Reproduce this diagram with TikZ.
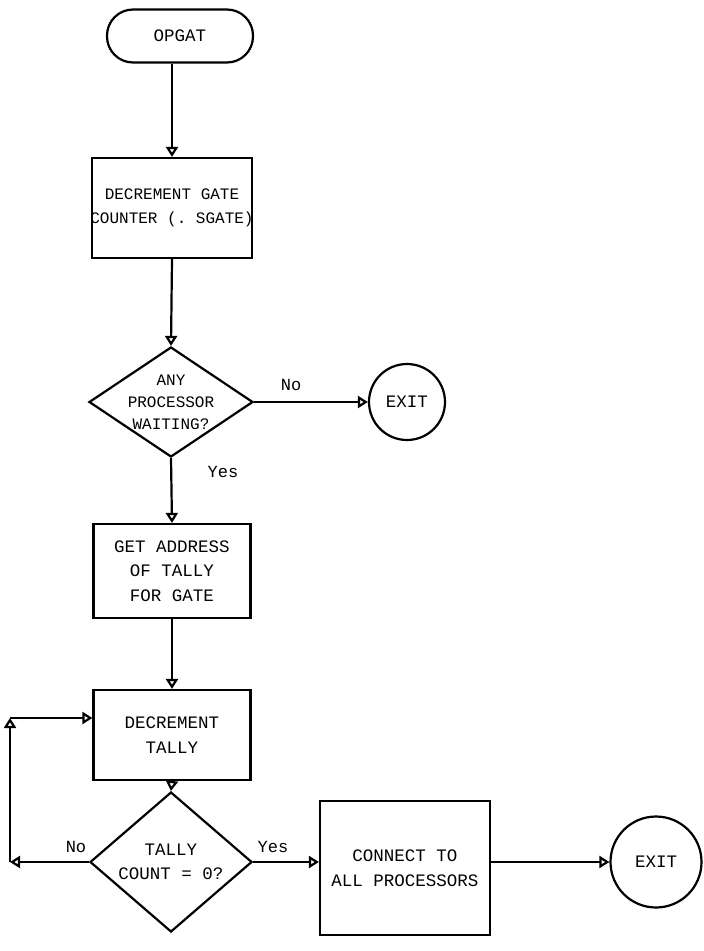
\documentclass[tikz,border=0pt]{standalone}
\usepackage{fontspec}
\setmonofont{Liberation Mono}
\usetikzlibrary{arrows.meta,shapes.geometric,positioning}

\begin{document}
\begin{tikzpicture}[x=1pt,y=-1pt,line width=2.2pt,
  font=\ttfamily\fontsize{17.5}{24.5}\selectfont,
  flow/.style={-{Triangle[open,length=10pt,width=12pt]}},
  term/.style={draw,rounded corners=26pt,minimum width=146pt,minimum height=53pt},
  proc/.style={draw,align=center,inner sep=0pt,minimum width=157pt,minimum height=100pt},
  test/.style={draw,diamond,align=center,inner xsep=-20pt,inner ysep=-12pt},
  stop/.style={draw,circle,inner sep=0pt},
  lbl/.style={font=\ttfamily\fontsize{17}{20}\selectfont}]
\useasboundingbox (0,0) rectangle (704,951);

% main column
\node[term] (start) at (180,36) {OPGAT};
\node[proc,inner xsep=-2pt,minimum width=160pt,font=\ttfamily\fontsize{16}{24}\selectfont] (gatecnt) at (172,208) {DECREMENT GATE\\COUNTER (. SGATE)};
\node[test,aspect=1.5,minimum width=164pt,minimum height=110pt,font=\ttfamily\fontsize{16}{22}\selectfont] (waiting) at (171,402) {ANY\\PROCESSOR\\WAITING?};
\node[stop,minimum size=76pt] (exitA) at (407,402) {EXIT};
\node[proc,minimum height=94pt] (tallyadr) at (172,571) {GET ADDRESS\\OF TALLY\\FOR GATE};
\node[proc,minimum height=90pt] (tallydec) at (172,735) {DECREMENT\\TALLY};
\node[test,aspect=1.15,minimum width=162pt,minimum height=140pt] (zero) at (171,862) {TALLY\\COUNT = 0?};
\node[proc,minimum width=170pt,minimum height=134pt] (connect) at (405,868) {CONNECT TO\\ALL PROCESSORS};
\node[stop,minimum size=91pt] (exitB) at (656,862) {EXIT};

% loop corners
\coordinate (loopB) at (10,862);
\coordinate (loopT) at (10,718);

% connectors
\draw[flow] (start.south -| gatecnt.north) -- (gatecnt.north);
\foreach \a/\b in {gatecnt/waiting,waiting/tallyadr,tallyadr/tallydec,tallydec/zero}
  \draw[flow] (\a.south) -- (\b.north);
\draw[flow] (waiting.east) -- (exitA.west);
\draw[flow] (zero.east) -- (zero.east -| connect.west);
\draw[flow] (connect.east |- exitB.west) -- (exitB.west);
\draw[flow] (zero.west) -- (loopB);
\draw[flow] (loopB) -- (loopT);
\draw[flow] (loopT) -- (loopT -| tallydec.west);

% branch labels
\node[lbl] (noA) at (291,385) {No};
\node[lbl] (yesA) at (223,472) {Yes};
\node[lbl] (noB) at (76,847) {No};
\node[lbl] (yesB) at (273,847) {Yes};
\end{tikzpicture}
\end{document}
